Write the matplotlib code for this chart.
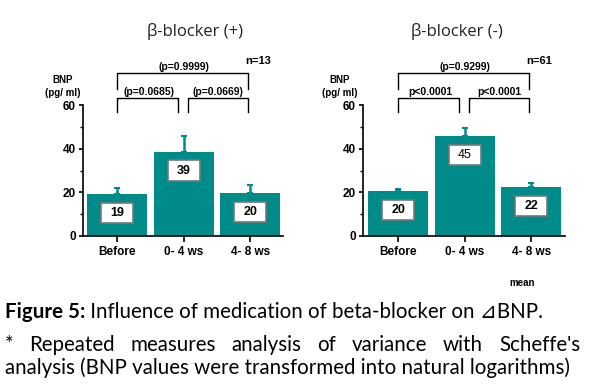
#!/usr/bin/env python3
"""Recreate Figure 5: beta-blocker BNP bar charts."""

import matplotlib
matplotlib.use("Agg")
import matplotlib.pyplot as plt
import numpy as np

# data
categories = ['Before', '0- 4 ws', '4- 8 ws']
plus_means = [19.1, 38.5, 19.6]
plus_err = [3.0, 7.3, 3.6]
plus_labels = [19, 39, 20]
minus_means = [20.6, 45.8, 22.3]
minus_err = [1.1, 3.8, 1.8]
minus_labels = [20, 45, 22]
plus_p = ['(p=0.0685)', '(p=0.0669)', '(p=0.9999)']
minus_p = ['p<0.0001', 'p<0.0001', '(p=0.9299)']

TEAL = '#008b8b'
W, H = 597, 389
LABEL_FONT = ['Liberation Sans', 'DejaVu Sans']
CAP_FONT = ['Lato', 'DejaVu Sans']

fig = plt.figure(figsize=(W / 100, H / 100), dpi=100)
fig.patch.set_facecolor('white')


def px_axes(x0, x1, ytop, ybot):
    return fig.add_axes([x0 / W, 1 - ybot / H, (x1 - x0) / W, (ybot - ytop) / H])


def panel(ax, means, err, labels, pvals, n_text, title, xlim, title_x, bnp_x):
    x = np.arange(len(categories))
    ax.bar(x, means, width=0.9, color=TEAL, zorder=2)
    ax.errorbar(x, means, yerr=[np.zeros(len(err)), err], fmt='none',
                ecolor=TEAL, elinewidth=1.8, capsize=2, capthick=1.5, zorder=1)
    ax.set_xlim(*xlim)
    ax.set_ylim(0, 60)
    for s in ['top', 'right']:
        ax.spines[s].set_visible(False)
    ax.spines['left'].set_linewidth(1.2)
    ax.spines['bottom'].set_linewidth(1.2)
    ax.set_yticks([0, 20, 40, 60])
    ax.set_yticks([10, 30, 50], minor=True)
    ax.tick_params(axis='y', which='major', length=3, width=1.2, pad=2)
    ax.tick_params(axis='y', which='minor', length=2, width=1)
    ax.set_xticks(x)
    ax.set_xticklabels(categories)
    ax.tick_params(axis='x', length=4, width=1.2, pad=3)
    for lab in ax.get_yticklabels() + ax.get_xticklabels():
        lab.set_fontweight('bold')
        lab.set_fontsize(8.5)
        lab.set_family(LABEL_FONT)

    # value boxes
    for xi, m, lab in zip(x, means, labels):
        ax.add_patch(plt.Rectangle((xi - 0.24, m - 8.5 - 4.6), 0.48, 9.2,
                                   facecolor='white', edgecolor='#777777',
                                   linewidth=1.2, zorder=3))
        ax.text(xi, m - 8.5, str(lab), ha='center', va='center', fontsize=9,
                fontweight='bold' if lab != 45 else 'normal',
                family=LABEL_FONT, zorder=4)

    # brackets
    kw = dict(color='black', lw=1.0, clip_on=False)
    ax.plot([0, 0, 0.91, 0.91], [56.8, 63.2, 63.2, 56.8], **kw)
    ax.plot([1.07, 1.07, 1.97, 1.97], [56.8, 63.2, 63.2, 56.8], **kw)
    ax.plot([0, 0, 1.97, 1.97], [67.3, 74.7, 74.7, 67.3], **kw)
    tkw = dict(ha='center', va='bottom', fontsize=7.5, fontweight='bold',
               family=LABEL_FONT, clip_on=False)
    ax.text(0.48, 63.8, pvals[0], **tkw)
    ax.text(1.52, 63.8, pvals[1], **tkw)
    ax.text(1.0, 75.3, pvals[2], **tkw)
    ax.text(2.12, 78.0, n_text, ha='center', va='bottom', fontsize=8,
            fontweight='bold', family=LABEL_FONT, clip_on=False)

    fig.text(title_x / W, 1 - 32 / H, title, ha='center', va='center',
             fontsize=12, family=['Open Sans', 'DejaVu Sans'], color='#222222')
    fig.text(bnp_x / W, 1 - 80 / H, 'BNP', ha='center', va='center', fontsize=7,
             fontweight='bold', family=LABEL_FONT)
    fig.text(bnp_x / W, 1 - 93 / H, '(pg/ ml)', ha='center', va='center', fontsize=7,
             fontweight='bold', family=LABEL_FONT)


ax1 = px_axes(83, 283, 105, 236)
panel(ax1, plus_means, plus_err, plus_labels, plus_p, 'n=13', '\u03b2-blocker (+)',
      (-0.51, 2.49), 195, 63)
ax2 = px_axes(363, 565, 105, 236)
panel(ax2, minus_means, minus_err, minus_labels, minus_p, 'n=61', '\u03b2-blocker (-)',
      (-0.53, 2.51), 457, 340)

fig.text(522 / W, 1 - 283 / H, 'mean', ha='center', va='center', fontsize=7,
         fontweight='bold', family=LABEL_FONT)

# caption
renderer = fig.canvas.get_renderer()
cap_size = 14.8
left_px, right_px = 5, 580

t1 = fig.text(left_px / W, 1 - 312 / H, 'Figure 5:', ha='left', va='center',
              fontsize=cap_size, fontweight='bold', family=CAP_FONT)
w1 = t1.get_window_extent(renderer).width
fig.text((left_px + w1) / W, 1 - 312 / H,
         ' Influence of medication of beta-blocker on \u22bfBNP.',
         ha='left', va='center', fontsize=cap_size, family=CAP_FONT)

words = "* Repeated measures analysis of variance with Scheffe's".split()
texts = [fig.text(0, 1 - 345 / H, w, ha='left', va='center', fontsize=cap_size,
                  family=CAP_FONT) for w in words]
widths = [t.get_window_extent(renderer).width for t in texts]
gap = (right_px - left_px - sum(widths)) / (len(words) - 1)
xpos = left_px
for t, wd in zip(texts, widths):
    t.set_x(xpos / W)
    xpos += wd + gap

fig.text(left_px / W, 1 - 368 / H,
         'analysis (BNP values were transformed into natural logarithms)',
         ha='left', va='center', fontsize=cap_size, family=CAP_FONT)

plt.savefig('out.png', dpi=100, facecolor='white')
plt.close()
